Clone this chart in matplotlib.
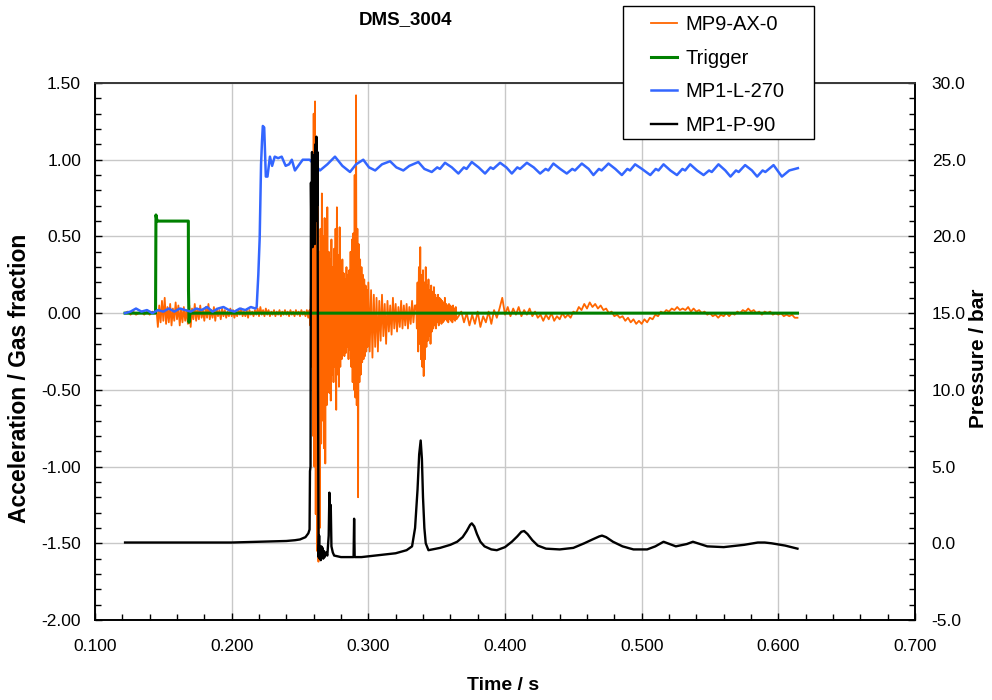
import numpy as np
import matplotlib
matplotlib.use('Agg')
import matplotlib.pyplot as plt
from matplotlib.ticker import MultipleLocator, FormatStrFormatter
from matplotlib.patches import Rectangle

plt.rcParams['font.family'] = ['Liberation Sans', 'DejaVu Sans']

# MP9-AX-0 (acceleration), each piece with its own sample step
acc_a_start, acc_a_step = 0.122, 0.002
acc_a = [0.00, 0.01, -0.01, 0.01, -0.01, 0.00, 0.01, -0.01, 0.01, -0.01, 0.01, 0.00]

acc_b_start, acc_b_step = 0.145, 0.001
acc_b = [0.02, -0.09, 0.05, -0.06, 0.08, -0.05, 0.10, -0.07, 0.04, -0.06,
         0.06, -0.08, 0.03, -0.05, 0.07, -0.04, 0.05, -0.08, 0.03, -0.06,
         0.04, -0.05, 0.02, -0.07, 0.05, -0.09, 0.03, -0.04, 0.06, -0.05,
         0.03, -0.04, 0.05, -0.03, 0.02, -0.05, 0.04, -0.03, 0.06, -0.04,
         0.02, -0.03, 0.04, -0.05, 0.03, -0.02, 0.02, -0.04, 0.03, -0.02,
         0.02, -0.03, 0.01, -0.02, 0.03, -0.02, 0.02, -0.03, 0.01, -0.02,
         0.02, -0.01, 0.03, -0.02, 0.01, -0.02, 0.02, -0.03, 0.02, -0.01,
         0.01, -0.02, 0.02, -0.01, 0.03, -0.02, 0.04, -0.01, 0.02, -0.02,
         0.03, -0.01, 0.02, -0.02, 0.01, -0.01, 0.02, -0.02, 0.01, -0.01,
         0.02, -0.02, 0.01, -0.01, 0.02, -0.01, 0.01, -0.02, 0.02, -0.01,
         0.01, -0.02, 0.02, -0.01, 0.01, -0.02, 0.02, -0.01, 0.01, -0.02,
         0.02, -0.03]

acc_c_start, acc_c_step = 0.257, 0.0005
acc_c = [0.02, -0.08, 0.15, -0.35, 0.60, -0.80, 1.30, -1.00, 1.38, -1.31,
         1.10, -1.55, 0.85, -1.62, 0.40, -1.40, 0.55, -0.85, 0.78, -0.70,
         0.50, -0.88, 0.62, -0.98, 0.45, -0.60, 0.69, -0.45, 0.40, -0.52,
         0.35, -0.57, 0.48, -0.40, 0.30, -0.45, 0.42, -0.35, 0.55, -0.63,
         0.69, -0.40, 0.38, -0.48, 0.56, -0.35, 0.30, -0.30, 0.35, -0.25,
         0.26, -0.28, 0.22, -0.26, 0.30, -0.22, 0.25, -0.30, 0.28, -0.24,
         0.40, -0.35, 0.48, -0.45, 0.52, -0.50, 0.90, -0.55, 1.42, -0.60,
         0.55, -1.20, 0.45, -0.45, 0.35, -0.40, 0.30, -0.32, 0.25, -0.30,
         0.22, -0.28, 0.18, -0.25, 0.15, -0.22]

acc_d_start, acc_d_step = 0.300, 0.001
acc_d = [0.20, -0.25, 0.15, -0.29, 0.12, -0.22, 0.10, -0.25, 0.08, -0.18,
         0.12, -0.15, 0.06, -0.20, 0.08, -0.12, 0.05, -0.14, 0.10, -0.10,
         0.06, -0.12, 0.04, -0.09, 0.08, -0.10, 0.05, -0.08, 0.06, -0.10,
         0.04, -0.07, 0.08, -0.06, 0.05]

acc_e_start, acc_e_step = 0.335, 0.0005
acc_e = [0.05, -0.10, 0.20, -0.25, 0.30, -0.20, 0.43, -0.30, 0.25, -0.35,
         0.28, -0.41, 0.20, -0.30, 0.30, -0.22, 0.18, -0.18, 0.22, -0.15,
         0.15, -0.20, 0.18, -0.12, 0.14, -0.10, 0.17, -0.08, 0.12, -0.10,
         0.10, -0.06, 0.12, -0.08, 0.10, -0.05, 0.09, -0.07, 0.08, -0.06,
         0.07, -0.05, 0.10, -0.04, 0.06, -0.05, 0.05, -0.06, 0.06, -0.04,
         0.05, -0.05, 0.04, -0.06, 0.05, -0.04, 0.03, -0.05, 0.04, -0.04]

acc_f_start, acc_f_step = 0.366, 0.002
acc_f = [-0.02, 0.01, -0.06, 0.00, -0.08, -0.01, -0.07, 0.01, -0.09, -0.02,
         -0.06, 0.01, -0.07, 0.02, -0.03, 0.03, 0.10, -0.01, 0.04, -0.02,
         0.03, -0.01, 0.04, -0.02, 0.02, -0.01, 0.03, -0.02, 0.01, -0.03,
         -0.01, -0.05, -0.01, -0.04, 0.00, -0.05, -0.02, -0.04, 0.00, -0.03,
         -0.01, -0.03, 0.01, 0.00, 0.04, 0.02, 0.06, 0.03, 0.07, 0.04,
         0.06, 0.03, 0.05, 0.02, 0.03, 0.00, 0.01, -0.02, -0.01, -0.03,
         -0.02, -0.05, -0.03, -0.06, -0.04, -0.07, -0.05, -0.07, -0.04, -0.06,
         -0.03, -0.04, -0.01, -0.02, 0.01, 0.00, 0.02, 0.01, 0.03, 0.02,
         0.04, 0.02, 0.03, 0.02, 0.04, 0.01, 0.03, 0.01, 0.02, 0.00,
         0.01, -0.01, 0.00, -0.02, -0.01, -0.03, -0.01, -0.02, 0.00, -0.02,
         0.00, -0.01, 0.01, 0.00, 0.02, 0.01, 0.03, 0.01, 0.02, 0.00,
         0.01, -0.01, 0.01, 0.00, 0.01, -0.01, 0.00, -0.01, 0.00, -0.02,
         -0.01, -0.02, -0.01, -0.03, -0.03]

# Trigger
trig_t = [0.122, 0.1443, 0.1446, 0.1452, 0.1460, 0.1683, 0.1684, 0.1688, 0.1695, 0.300, 0.450, 0.614]
trig_v = [0.00, 0.00, 0.64, 0.61, 0.60, 0.60, 0.15, -0.06, 0.00, 0.00, 0.00, 0.00]

# MP1-L-270 (gas fraction)
gas_t = [0.122, 0.126, 0.130, 0.134, 0.138, 0.142, 0.146, 0.150, 0.154, 0.158,
         0.162, 0.166, 0.170, 0.174, 0.178, 0.182, 0.186, 0.190, 0.194, 0.198,
         0.202, 0.206, 0.210, 0.214, 0.2175,
         0.2183, 0.2195, 0.2205, 0.2215, 0.2222, 0.2228, 0.2238, 0.2250, 0.2262, 0.2280,
         0.2296, 0.2315, 0.2340, 0.2366, 0.2395, 0.2420, 0.2440, 0.2463, 0.2520, 0.2570,
         0.2616, 0.2646, 0.2700, 0.2756, 0.2810, 0.2866, 0.2910, 0.2963, 0.3005, 0.3050,
         0.3100, 0.3159, 0.3205, 0.3256, 0.3300, 0.3366, 0.3410,
         0.3464, 0.3504, 0.3524, 0.3561, 0.3611,
         0.3659, 0.3699, 0.3719, 0.3757, 0.3807,
         0.3854, 0.3894, 0.3914, 0.3964, 0.4010,
         0.4050, 0.4090, 0.4110, 0.4160, 0.4210,
         0.4257, 0.4297, 0.4317, 0.4354, 0.4404,
         0.4452, 0.4492, 0.4512, 0.4562, 0.4612,
         0.4647, 0.4687, 0.4707, 0.4757, 0.4807,
         0.4855, 0.4895, 0.4915, 0.4952, 0.5002,
         0.5063, 0.5103, 0.5123, 0.5160, 0.5210,
         0.5258, 0.5298, 0.5318, 0.5355, 0.5405,
         0.5453, 0.5493, 0.5513, 0.5562, 0.5612,
         0.5650, 0.5690, 0.5710, 0.5757, 0.5807,
         0.5845, 0.5885, 0.5905, 0.5965,
         0.6026, 0.6080, 0.6143]
gas_v = [0.00, 0.01, 0.03, 0.01, 0.02, 0.00, 0.02, 0.01, 0.03, 0.01,
         0.03, 0.02, 0.01, 0.03, 0.02, 0.04, 0.01, 0.03, 0.04, 0.02,
         0.01, 0.03, 0.02, 0.04, 0.03,
         0.04, 0.25, 0.49, 0.97, 1.12, 1.22, 1.21, 0.89, 0.89, 1.02,
         0.96, 1.02, 1.01, 1.02, 0.96, 0.97, 1.00, 0.93, 1.00, 1.00,
         0.96, 0.93, 0.97, 1.02, 0.96, 0.92, 0.97, 1.00, 0.95, 0.93,
         0.97, 0.99, 0.95, 0.93, 0.96, 0.985, 0.94,
         0.92, 0.95, 0.94, 0.98, 0.95,
         0.91, 0.95, 0.94, 0.985, 0.95,
         0.91, 0.95, 0.94, 0.98, 0.95,
         0.91, 0.95, 0.94, 0.98, 0.95,
         0.91, 0.94, 0.93, 0.975, 0.94,
         0.91, 0.94, 0.93, 0.975, 0.94,
         0.90, 0.94, 0.93, 0.975, 0.94,
         0.90, 0.94, 0.93, 0.97, 0.94,
         0.90, 0.94, 0.93, 0.97, 0.93,
         0.90, 0.94, 0.93, 0.97, 0.93,
         0.90, 0.93, 0.92, 0.97, 0.93,
         0.89, 0.93, 0.92, 0.965, 0.93,
         0.89, 0.93, 0.92, 0.965,
         0.89, 0.93, 0.945]

# MP1-P-90 (pressure, bar, right axis)
pres_t = [0.122, 0.160, 0.200, 0.220, 0.240, 0.2463, 0.2500, 0.2540, 0.2561, 0.2570, 0.2573, 0.2577,
          0.2580, 0.2584, 0.2588, 0.2592, 0.2596, 0.2600, 0.2604, 0.2608, 0.2612, 0.2616, 0.2620, 0.2624, 0.2628, 0.2632,
          0.2636, 0.2640, 0.2644, 0.2648, 0.2652, 0.2656, 0.2660, 0.2665, 0.2670, 0.2675, 0.2680, 0.2690, 0.2700,
          0.2710, 0.2715, 0.2720, 0.2725, 0.2730, 0.2740, 0.2750, 0.2800, 0.2850, 0.2892, 0.2896, 0.2900, 0.2950,
          0.3000, 0.3100, 0.3200, 0.3280, 0.3320, 0.3342, 0.3360, 0.3372, 0.3383, 0.3392, 0.3400, 0.3410, 0.3420, 0.3440,
          0.3525, 0.3600, 0.3650, 0.3690, 0.3720, 0.3745, 0.3757, 0.3775, 0.3795, 0.3820, 0.3850, 0.3900, 0.3940,
          0.4000, 0.4050, 0.4090, 0.4120, 0.4140, 0.4165, 0.4200, 0.4240, 0.4300, 0.4400, 0.4500, 0.4580,
          0.4640, 0.4690, 0.4710, 0.4740, 0.4790, 0.4860, 0.4940, 0.5040, 0.5100, 0.5140, 0.5160, 0.5190,
          0.5250, 0.5330, 0.5375, 0.5410, 0.5480, 0.5600, 0.5750, 0.5850, 0.5900, 0.5950, 0.6050, 0.6140]
pres_p = [0.05, 0.05, 0.05, 0.10, 0.15, 0.20, 0.25, 0.40, 0.65, 0.90, 4.7, 5.0,
          23.5, 19.5, 25.5, 19.3, 25.3, 20.0, 25.0, 19.5, 26.0, 21.0, 26.5, 22.0, 25.5, 10.0,
          -0.9, 0.5, -1.0, -0.3, -1.1, -0.2, -0.9, -0.3, -1.0, -0.5, -0.9, -0.6, -0.8,
          0.5, 3.3, 1.0, 2.5, -0.2, -0.6, -0.8, -0.9, -0.9, -0.9, 1.6, -0.9, -0.9,
          -0.85, -0.75, -0.65, -0.45, -0.2, 1.0, 3.5, 5.8, 6.7, 5.5, 3.0, 1.0, 0.0, -0.45,
          -0.3, -0.1, 0.1, 0.4, 0.8, 1.2, 1.3, 1.1, 0.6, 0.1, -0.2, -0.4, -0.45,
          -0.25, 0.1, 0.45, 0.75, 0.8, 0.6, 0.2, -0.15, -0.35, -0.4, -0.3, 0.0,
          0.25, 0.45, 0.5, 0.4, 0.1, -0.2, -0.4, -0.4, -0.2, 0.0, 0.1, 0.0,
          -0.2, -0.05, 0.1, 0.0, -0.2, -0.25, -0.1, 0.05, 0.05, 0.0, -0.15, -0.35]

# build the acceleration trace from its pieces
pieces = [(acc_a_start, acc_a_step, acc_a), (acc_b_start, acc_b_step, acc_b),
          (acc_c_start, acc_c_step, acc_c), (acc_d_start, acc_d_step, acc_d),
          (acc_e_start, acc_e_step, acc_e), (acc_f_start, acc_f_step, acc_f)]
acc_t = np.concatenate([t0 + dt * np.arange(len(v)) for t0, dt, v in pieces])
acc_v = np.concatenate([np.array(v) for t0, dt, v in pieces])

fig = plt.figure(figsize=(9.92, 7.0), dpi=100)
ax = fig.add_axes([95/992, 80/700, 820/992, 537/700])
ax2 = ax.twinx()

l1, = ax.plot(acc_t, acc_v, color='#ff6600', lw=1.3, zorder=2, label='MP9-AX-0')
l2, = ax.plot(trig_t, trig_v, color='#008000', lw=2.2, zorder=3, label='Trigger')
l3, = ax.plot(gas_t, gas_v, color='#3366ff', lw=1.8, zorder=4, label='MP1-L-270')
l4, = ax2.plot(pres_t, pres_p, color='black', lw=1.7, label='MP1-P-90')

ax.set_xlim(0.1, 0.7)
ax.set_ylim(-2.0, 1.5)
ax2.set_ylim(-5, 30)

ax.xaxis.set_major_locator(MultipleLocator(0.1))
ax.xaxis.set_minor_locator(MultipleLocator(0.02))
ax.xaxis.set_major_formatter(FormatStrFormatter('%.3f'))
ax.yaxis.set_major_locator(MultipleLocator(0.5))
ax.yaxis.set_minor_locator(MultipleLocator(0.1))
ax.yaxis.set_major_formatter(FormatStrFormatter('%.2f'))
ax2.yaxis.set_major_locator(MultipleLocator(5))
ax2.yaxis.set_minor_locator(MultipleLocator(1))
ax2.yaxis.set_major_formatter(FormatStrFormatter('%.1f'))

ax.grid(True, which='major', color='#c8c8c8', lw=1.0)
ax.set_axisbelow(True)

ax.tick_params(axis='both', which='both', direction='in', top=False, right=False, labelsize=12.5)
ax.tick_params(axis='both', which='major', length=5, width=1)
ax.tick_params(axis='both', which='minor', length=4, width=1)
ax.tick_params(axis='x', pad=14)
ax.tick_params(axis='y', pad=10)
ax2.tick_params(axis='y', which='both', direction='in', labelsize=12.5, pad=12)
ax2.tick_params(axis='y', which='major', length=5, width=1)
ax2.tick_params(axis='y', which='minor', length=4, width=1)

for a in (ax, ax2):
    for s in a.spines.values():
        s.set_color('black')
        s.set_linewidth(1.2)
ax2.spines['top'].set_color('#404040')

ax.set_xlabel('Time / s', fontsize=14, fontweight='bold')
ax.xaxis.set_label_coords(0.4976, -0.106)
ax.set_ylabel('Acceleration / Gas fraction', fontsize=16.5, fontweight='bold')
ax.yaxis.set_label_coords(-0.078, 0.45)
ax2.set_ylabel('Pressure / bar', fontsize=15, fontweight='bold')
ax2.yaxis.set_label_coords(1.066, 0.487)

fig.text(405/992, 1 - 20/700, 'DMS_3004', fontsize=13.5, fontweight='bold',
         ha='center', va='center')

# legend box sits partly above the plot area, as in the original
box = Rectangle((623/992, 1 - 139/700), 191/992, 133/700, transform=fig.transFigure,
                facecolor='white', edgecolor='black', lw=1.0, zorder=5)
fig.patches.append(box)
leg = fig.legend([l1, l2, l3, l4], ['MP9-AX-0', 'Trigger', 'MP1-L-270', 'MP1-P-90'],
                 loc='upper left', bbox_to_anchor=(637/992, 1 - 1/700),
                 frameon=False, fontsize=14.5, handlelength=1.3, handletextpad=0.4,
                 labelspacing=0.72, borderpad=0.2)
leg.set_zorder(6)

fig.savefig('out.png', dpi=100)
